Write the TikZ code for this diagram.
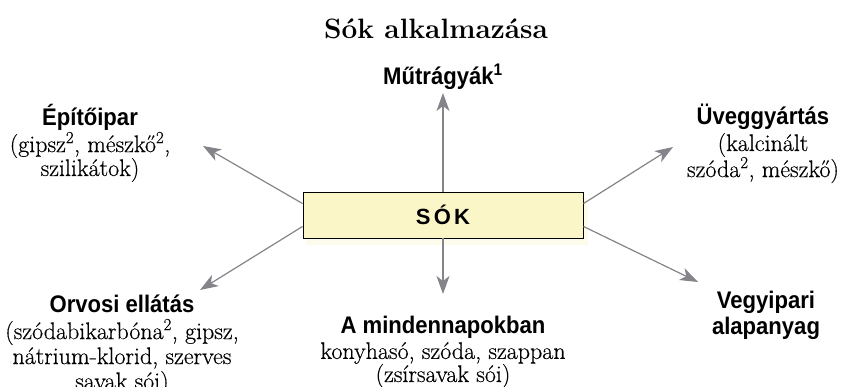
\documentclass[tikz,border=0pt]{standalone}
\usepackage{fontspec}
\newfontfamily\hsans[FakeStretch=0.92]{Liberation Sans}
\newfontfamily\boxsans[LetterSpace=15]{Liberation Sans}
\newfontfamily\bodyserif[FakeBold=0.4]{Latin Modern Roman}
\usetikzlibrary{arrows.meta}
\definecolor{arrgray}{RGB}{132,132,138}
\definecolor{boxfill}{RGB}{250,246,200}
\begin{document}
\begin{tikzpicture}[x=1pt,y=-1pt,
  head/.style={font=\hsans\bfseries\fontsize{24}{27}\selectfont, align=center, inner sep=0pt},
  body/.style={font=\bodyserif\fontsize{24}{26}\selectfont, align=center, inner sep=0pt},
  ttl/.style={font=\bfseries\fontsize{28}{32}\selectfont, inner sep=0pt},
  sokbox/.style={draw=black, line width=0.9pt, fill=boxfill, minimum width=280pt, minimum height=46pt, inner sep=0pt, font=\boxsans\bfseries\fontsize{22}{24}\selectfont},
  arr/.style={draw=arrgray, line width=1.2pt, -{Stealth[length=18pt,width=13pt,inset=5pt,fill=arrgray]}}
]
\useasboundingbox (0,0) rectangle (850,386);
\fill[boxfill!35] (306,198) rectangle (588,245);
\node[ttl] (title) at (436,29) {Sók alkalmazása};
\node[sokbox] (sok) at (443,215) {SÓK};

\node[head] (mutr) at (443,77) {Műtrágyák\textsuperscript{1}};

\node[head] (epit) at (90,117) {Építőipar};
\node[body] (epit2) at (90,145) {(gipsz\textsuperscript{2}, mészkő\textsuperscript{2},};
\node[body] (epit3) at (90,170) {szilikátok)};

\node[head] (uveg) at (763,117) {Üveggyártás};
\node[body] (uveg2) at (763,145) {(kalcinált};
\node[body] (uveg3) at (763,170) {szóda\textsuperscript{2}, mészkő)};

\node[head] (orv) at (122,304) {Orvosi ellátás};
\node[body] (orv2) at (122,332) {(szódabikarbóna\textsuperscript{2}, gipsz,};
\node[body] (orv3) at (122,358) {nátrium-klorid, szerves};
\node[body] (orv4) at (122,383) {savak sói)};

\node[head] (mind) at (443,327) {A mindennapokban};
\node[body] (mind2) at (443,353) {konyhasó, szóda, szappan};
\node[body] (mind3) at (443,376) {(zsírsavak sói)};

\node[head] (vegy) at (766,302) {Vegyipari};
\node[head] (vegy2) at (766,328) {alapanyag};

\coordinate (tul) at (203,146);
\coordinate (tur) at (673,147);
\coordinate (tll) at (200,290);
\coordinate (tlr) at (698,282);
\coordinate (tup) at (443,93);
\coordinate (tdn) at (443,294);

\draw[arr] ([yshift=-12pt]sok.north west) -- (tul);
\draw[arr] ([yshift=-12pt]sok.north east) -- (tur);
\draw[arr] ([yshift=12pt]sok.south west) -- (tll);
\draw[arr] ([yshift=12pt]sok.south east) -- (tlr);
\draw[arr] (sok.north) -- (tup);
\draw[arr] (sok.south) -- (tdn);
\end{tikzpicture}
\end{document}
